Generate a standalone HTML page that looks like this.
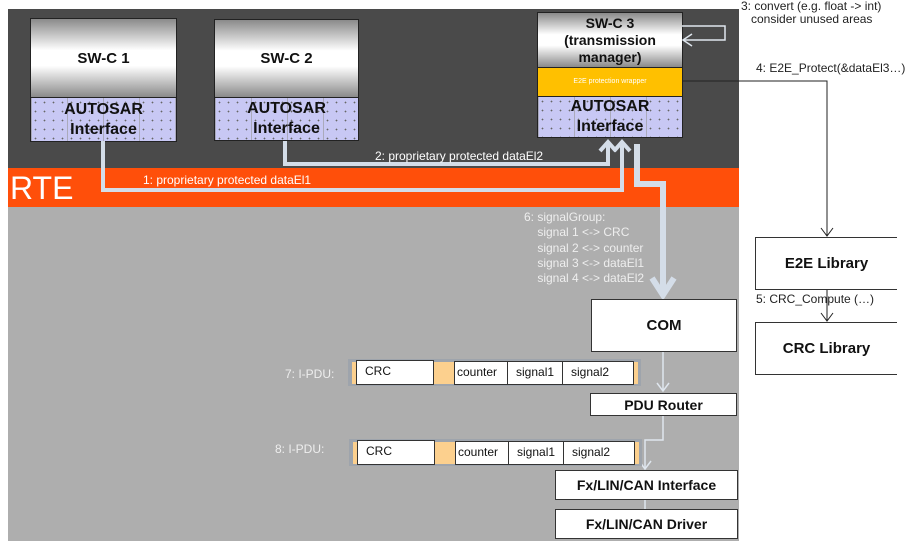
<!DOCTYPE html>
<html><head><style>
body{margin:0;width:922px;height:547px;background:#fff;position:relative;overflow:hidden;font-family:"Liberation Sans",sans-serif}
.a{position:absolute;box-sizing:border-box}
.sw{border:1px solid #222;background:linear-gradient(#8a8a8a,#fff 40%,#fff 60%,#8a8a8a);display:flex;align-items:center;justify-content:center;font-weight:bold;font-size:15px;color:#111;text-align:center;line-height:17px}
.ai{border:1px solid #222;background-color:#c8c8f4;background-image:radial-gradient(#666 0.7px,transparent 1px),linear-gradient(90deg,#aab 1px,transparent 1px);background-size:9px 9px,36px 12px;display:flex;align-items:center;justify-content:center;font-weight:bold;font-size:16px;color:#111;text-align:center;line-height:20px}
.bx{border:1px solid #333;background:#fff;display:flex;align-items:center;justify-content:center;font-weight:bold;color:#111}
.cell{border:1px solid #333;background:#fff;font-size:12px;color:#111;padding-left:8px;line-height:20px}
.t{position:absolute;font-size:12px;white-space:nowrap}
</style></head><body>
<div class="a" style="left:8px;top:9px;width:731px;height:160px;background:#4a4a4a"></div>
<div class="a" style="left:8px;top:168px;width:731px;height:39px;background:#ff4f0a"></div>
<div class="a" style="left:8px;top:207px;width:731px;height:334px;background:#aeaeae"></div>
<div class="t" style="left:10px;top:170px;font-size:32px;color:#fff">RTE</div>

<div class="a sw" style="left:30px;top:18px;width:147px;height:80px">SW-C 1</div>
<div class="a ai" style="left:30px;top:97px;width:147px;height:45px">AUTOSAR<br>Interface</div>
<div class="a sw" style="left:214px;top:19px;width:145px;height:79px">SW-C 2</div>
<div class="a ai" style="left:214px;top:97px;width:145px;height:44px">AUTOSAR<br>Interface</div>
<div class="a sw" style="left:537px;top:12px;width:146px;height:56px;font-size:14px">SW-C 3<br>(transmission<br>manager)</div>
<div class="a" style="left:537px;top:67px;width:146px;height:30px;background:#ffc000;border:1px solid #222;color:#fff;font-size:7px;text-align:center;line-height:28px">E2E protection wrapper</div>
<div class="a ai" style="left:537px;top:96px;width:146px;height:42px">AUTOSAR<br>Interface</div>

<svg class="a" style="left:0;top:0" width="922" height="547">
<g fill="none" stroke="#d4dde8" stroke-width="4">
<polyline points="103,141 103,190 622,190 622,142"/>
<polyline points="285,141 285,164 608,164 608,142"/>
<polyline points="614,151 622,142 630,151"/>
<polyline points="600,151 608,142 616,151"/>
<polyline points="637,144 637,184 663,184 663,292" stroke-width="6"/>
<polyline points="652,278 663,295 674,278" stroke-width="6"/>
</g>
<g fill="none" stroke="#dfe6ee" stroke-width="1.5">
<polyline points="663,351 663,391"/><polyline points="657,383 663,391 669,383"/>
<polyline points="663,415 663,440 645,440 645,469"/><polyline points="639,461 645,469 651,461"/>
<polyline points="645,499 645,509"/>
<polyline points="682,26 725,26 725,40 683,40"/><polyline points="692,34 683,40 692,46"/>
</g>
<g fill="none" stroke="#222" stroke-width="1">
<polyline points="683,81 827,81 827,236"/><polyline points="821,228 827,236 833,228"/>
<polyline points="827,290 827,321"/><polyline points="821,313 827,321 833,313"/>
</g>
</svg>

<div class="t" style="left:143px;top:173px;color:#fff">1: proprietary protected dataEl1</div>
<div class="t" style="left:375px;top:149px;color:#fff">2: proprietary protected dataEl2</div>
<div class="t" style="left:741px;top:0px;color:#222;line-height:13px">3: convert (e.g. float -&gt; int)<br>&nbsp;&nbsp;&nbsp;consider unused areas</div>
<div class="t" style="left:756px;top:61px;color:#222">4: E2E_Protect(&amp;dataEl3…)</div>
<div class="t" style="left:756px;top:292px;color:#222">5: CRC_Compute (…)</div>
<div class="t" style="left:524px;top:210px;color:#eee;line-height:15.3px">6: signalGroup:<br>&nbsp;&nbsp;&nbsp;&nbsp;signal 1 &lt;-&gt; CRC<br>&nbsp;&nbsp;&nbsp;&nbsp;signal 2 &lt;-&gt; counter<br>&nbsp;&nbsp;&nbsp;&nbsp;signal 3 &lt;-&gt; dataEl1<br>&nbsp;&nbsp;&nbsp;&nbsp;signal 4 &lt;-&gt; dataEl2</div>

<div class="a bx" style="left:755px;top:237px;width:142px;height:53px;font-size:15px;border-right:none">E2E Library</div>
<div class="a bx" style="left:755px;top:322px;width:142px;height:53px;font-size:15px;border-right:none">CRC Library</div>

<div class="a bx" style="left:591px;top:299px;width:146px;height:53px;font-size:15px">COM</div>
<div class="a bx" style="left:590px;top:393px;width:147px;height:23px;font-size:14px">PDU Router</div>
<div class="a bx" style="left:555px;top:470px;width:183px;height:30px;font-size:14px">Fx/LIN/CAN Interface</div>
<div class="a bx" style="left:555px;top:509px;width:183px;height:30px;font-size:14px">Fx/LIN/CAN Driver</div>

<div class="t" style="left:285px;top:367px;color:#eee">7: I-PDU:</div>
<div class="a" style="left:348px;top:359px;width:293px;height:27px;background:#9ea4ac"></div>
<div class="a" style="left:352px;top:362px;width:286px;height:22px;background:#fcd08e"></div>
<div class="a cell" style="left:356px;top:360px;width:78px;height:25px">CRC</div>
<div class="a cell" style="left:454px;top:361px;width:54px;height:24px;padding-left:2px">counter</div>
<div class="a cell" style="left:507px;top:361px;width:56px;height:24px">signal1</div>
<div class="a cell" style="left:562px;top:361px;width:72px;height:24px">signal2</div>

<div class="t" style="left:275px;top:442px;color:#eee">8: I-PDU:</div>
<div class="a" style="left:349px;top:439px;width:293px;height:27px;background:#9ea4ac"></div>
<div class="a" style="left:353px;top:442px;width:286px;height:22px;background:#fcd08e"></div>
<div class="a cell" style="left:357px;top:440px;width:78px;height:25px">CRC</div>
<div class="a cell" style="left:455px;top:441px;width:54px;height:24px;padding-left:2px">counter</div>
<div class="a cell" style="left:508px;top:441px;width:56px;height:24px">signal1</div>
<div class="a cell" style="left:563px;top:441px;width:72px;height:24px">signal2</div>
</body></html>
